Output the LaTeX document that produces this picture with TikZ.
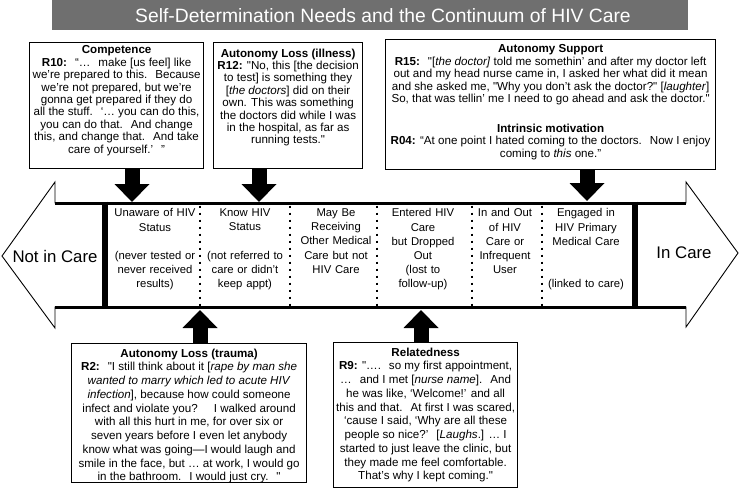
\documentclass[tikz,border=0pt]{standalone}
\usepackage{fontspec}
\setmainfont{Liberation Sans}[Ligatures=TeXOff]
\usetikzlibrary{arrows.meta}
\definecolor{titlegray}{HTML}{6F6F6F}
\newcommand{\topfont}{\fontsize{11.6}{12.4}\selectfont}
\newcommand{\botfont}{\fontsize{11.6}{13.75}\selectfont}
\newcommand{\dsp}{\hspace{8pt}}
\newcommand{\sq}{\symbol{34}}
\begin{document}
\begin{tikzpicture}[x=1pt,y=-1pt,
  quotebox/.style={draw=black, line width=1.2pt, fill=white, inner sep=0pt, anchor=north west},
  blockarrow/.style={line width=15pt, -{Triangle[width=35pt,length=18pt,line width=0pt]}},
  stagetext/.style={anchor=north, align=center, text width=100pt, inner sep=0pt,
    font=\fontsize{11.3}{14.2}\selectfont},
  divider/.style={line width=2.6pt, dash pattern=on 2.6pt off 4.4pt},
  bigarrow/.style={draw=black, line width=0.9pt, line join=miter, fill=white},
  endlabel/.style={font=\fontsize{16.8}{20}\selectfont, inner sep=0pt}]
\useasboundingbox (0,0) rectangle (741,492);

% title
\fill[titlegray] (52,0) rectangle (688,30);
\node[text=white, font=\fontsize{19.3}{22}\selectfont, inner sep=0pt] (title) at (383,15.5)
  {Self-Determination Needs and the Continuum of HIV Care};

% big double arrow
\draw[bigarrow] (2,256) -- (55,182) -- (55,203) -- (686,203) -- (686,182) -- (738,253)
  -- (686,327) -- (686,307) -- (55,307) -- (55,328) -- cycle;
\draw[line width=3pt] (55,203) -- (686,203);
\draw[line width=3pt] (55,307) -- (686,307);
\draw[line width=5.5pt] (105,201.5) -- (105,308.5);
\draw[line width=5.5pt] (635,201.5) -- (635,308.5);
\foreach \dx in {200,290,377,472,542}{
  \draw[divider] (\dx,205.5) -- (\dx,306);
}

\node[endlabel] (notcare) at (55,256) {Not in Care};
\node[endlabel] (incare) at (684,253) {In Care};

% stages
\node[stagetext] (s1) at (155,208.5) {Unaware of HIV\\Status\\[14.2pt](never tested or\\never received\\results)};
\node[stagetext] (s2) at (245,208.5) {Know HIV\\Status\\[14.2pt](not referred to\\care or didn’t\\keep appt)};
\node[stagetext] (s3) at (336,208.5) {May Be\\Receiving\\Other Medical\\Care but not\\HIV Care};
\node[stagetext] (s4) at (423,208.5) {Entered HIV\\Care\\but Dropped\\Out\\(lost to\\follow-up)};
\node[stagetext] (s5) at (505,208.5) {In and Out\\of HIV\\Care or\\Infrequent\\User};
\node[stagetext] (s6) at (586,208.5) {Engaged in\\HIV Primary\\Medical Care\\[28.4pt](linked to care)};

% quote boxes (top)
\node[quotebox] (r10) at (29,42) {\parbox[c][126pt][t]{174pt}{\vspace*{3.3pt}\topfont\centering
\textbf{Competence}\\
\textbf{R10:}\dsp“…\dsp make [us feel] like\\
we’re prepared to this.\dsp Because\\
we’re not prepared, but we’re\\
gonna get prepared if they do\\
all the stuff.\dsp ‘… you can do this,\\
you can do that.\dsp And change\\
this, and change that.\dsp And take\\
care of yourself.’\dsp”}};

\node[quotebox] (r12) at (213,42) {\parbox[c][126pt][t]{149pt}{\vspace*{6pt}\topfont\centering
\textbf{Autonomy Loss (illness)}\\
\textbf{R12:} \sq No, this [the decision\\
to test] is something they\\
{[}\textit{the doctors}] did on their\\
own. This was something\\
the doctors did while I was\\
in the hospital, as far as\\
running tests.\sq}};

\node[quotebox] (as) at (385,39) {\parbox[c][130pt][t]{330pt}{\vspace*{5.3pt}\topfont\centering
\textbf{Autonomy Support}\\
\textbf{R15:}\dsp\sq[\textit{the doctor]} told me somethin’ and after my doctor left\\
out and my head nurse came in, I asked her what did it mean\\
and she asked me, \sq Why you don’t ask the doctor?\sq\ [\textit{laughter}]\\
So, that was tellin’ me I need to go ahead and ask the doctor.\sq\\[17.6pt]
\textbf{Intrinsic motivation}\\
\textbf{R04:} “At one point I hated coming to the doctors.\dsp Now I enjoy\\
coming to \textit{this} one.”}};

% quote boxes (bottom)
\node[quotebox] (r2) at (71,343) {\parbox[c][139pt][t]{235pt}{\vspace*{5pt}\botfont\centering
\textbf{Autonomy Loss (trauma)}\\
\textbf{R2:}\dsp\sq I still think about it [\textit{rape by man she}\\
\textit{wanted to marry which led to acute HIV}\\
\textit{infection}], because how could someone\\
infect and violate you?\dsp\dsp I walked around\\
with all this hurt in me, for over six or\\
seven years before I even let anybody\\
know what was going—I would laugh and\\
smile in the face, but … at work, I would go\\
in the bathroom.\dsp I would just cry.\dsp\sq}};

\node[quotebox] (r9) at (333,342) {\parbox[c][145pt][t]{184pt}{\vspace*{5pt}\botfont\centering
\textbf{Relatedness}\\
\textbf{R9:} \sq….\dsp so my first appointment,\\
…\dsp and I met [\textit{nurse name}].\dsp And\\
he was like, ‘Welcome!’ and all\\
this and that.\dsp At first I was scared,\\
‘cause I said, ‘Why are all these\\
people so nice?’\dsp[\textit{Laughs}.] … I\\
started to just leave the clinic, but\\
they made me feel comfortable.\\
That’s why I kept coming.\sq}};

% block arrows
\coordinate (a1) at (132,202);
\coordinate (a2) at (259,202);
\coordinate (a3) at (587,201);
\coordinate (a4) at (200,310);
\coordinate (a5) at (421,310);
\draw[blockarrow] (r10.south -| a1) -- (a1);
\draw[blockarrow] (r12.south -| a2) -- (a2);
\draw[blockarrow] (as.south -| a3) -- (a3);
\draw[blockarrow] (r2.north -| a4) -- (a4);
\draw[blockarrow] (r9.north -| a5) -- (a5);
\end{tikzpicture}
\end{document}
